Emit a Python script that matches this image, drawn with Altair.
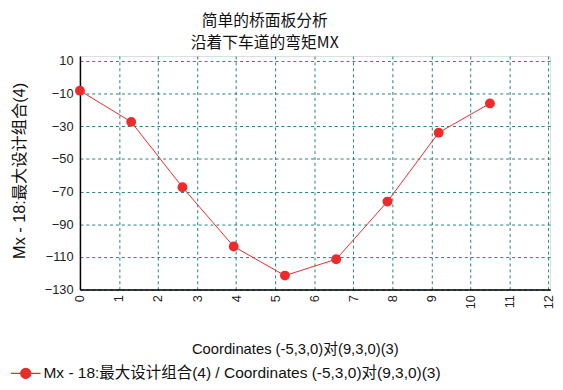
import altair as alt
import pandas as pd

coords = [0, 1.3125, 2.625, 3.9375, 5.25, 6.5625, 7.875, 9.1875, 10.5]
mx = [-8.2, -27.3, -67.3, -103.6, -121.4, -111.4, -76.1, -33.9, -16.0]
series_name = "Mx - 18:最大设计组合(4) / Coordinates (-5,3,0)对(9,3,0)(3)"
x_ticks = list(range(0, 13))
y_ticks = [10, -10, -30, -50, -70, -90, -110, -130]

df = pd.DataFrame({"x": coords, "y": mx, "s": [series_name] * len(coords)})

FONT = "Liberation Sans, Noto Sans CJK SC"
RED = "#ee2a2a"

x_enc = alt.X("x:Q", scale=alt.Scale(domain=[0, 12.04], nice=False, zero=False),
              axis=alt.Axis(values=x_ticks, title="Coordinates (-5,3,0)对(9,3,0)(3)",
                            labelAngle=270, labelAlign="right", labelBaseline="middle",
                            labelPadding=5, labelFontSize=13, labelColor="#222",
                            titleFontSize=15, titleFontWeight="normal", titleColor="#111",
                            titleX=218, titleY=60, titleBaseline="middle", titleAlign="center",
                            ticks=False, domainColor="#000", domainWidth=1.5,
                            grid=True, gridColor="#1f8080", gridDash=[3, 3], gridWidth=1,
                            labelFont=FONT, titleFont=FONT))
y_enc = alt.Y("y:Q", scale=alt.Scale(domain=[-130, 13], nice=False, zero=False),
              axis=alt.Axis(values=y_ticks, title="Mx - 18:最大设计组合(4)",
                            labelPadding=7, labelFontSize=13, labelColor="#222",
                            titleFontSize=16.5, titleFontWeight="normal", titleColor="#111",
                            titleAngle=270, titleX=-61, titleY=116, titleBaseline="middle",
                            titleAlign="center",
                            ticks=False, domainColor="#000", domainWidth=1.5,
                            grid=True, gridColor="#1f8080", gridDash=[3, 3], gridWidth=1,
                            labelFont=FONT, titleFont=FONT))

legend = alt.Legend(title=None, orient="none", legendX=-71, legendY=306,
                    symbolType="M-1,0H1M-0.34,0A0.34,0.34 0 1,1 0.34,0A0.34,0.34 0 1,1 -0.34,0",
                    symbolSize=900, symbolStrokeWidth=1.2,
                    symbolStrokeColor=RED, symbolFillColor=RED, symbolOpacity=1,
                    labelFontSize=15.7, labelFont=FONT, labelColor="#111",
                    labelOffset=2, labelLimit=700)
color = alt.Color("s:N", scale=alt.Scale(range=[RED]), legend=legend)

line = alt.Chart(df).mark_line(strokeWidth=1).encode(x=x_enc, y=y_enc, color=color)
pts = alt.Chart(df).mark_point(filled=True, size=100, opacity=1, strokeWidth=1.2).encode(
    x=x_enc, y=y_enc, color=color)

chart = alt.layer(line, pts).properties(
    width=477, height=237,
    autosize=alt.AutoSizeParams(type="none"),
    padding={"left": 73, "top": 46, "right": 5, "bottom": 91},
    title=alt.Title(["简单的桥面板分析", "沿着下车道的弯矩MX"], fontSize=16, fontWeight="normal",
                    font="Noto Sans CJK SC, Liberation Sans", color="#111", anchor="middle",
                    dx=-51, offset=4, lineHeight=22),
).configure_view(stroke="#444", strokeWidth=1).configure(background="white")

chart.save("out.html", embed_options={"renderer": "svg", "actions": False})
